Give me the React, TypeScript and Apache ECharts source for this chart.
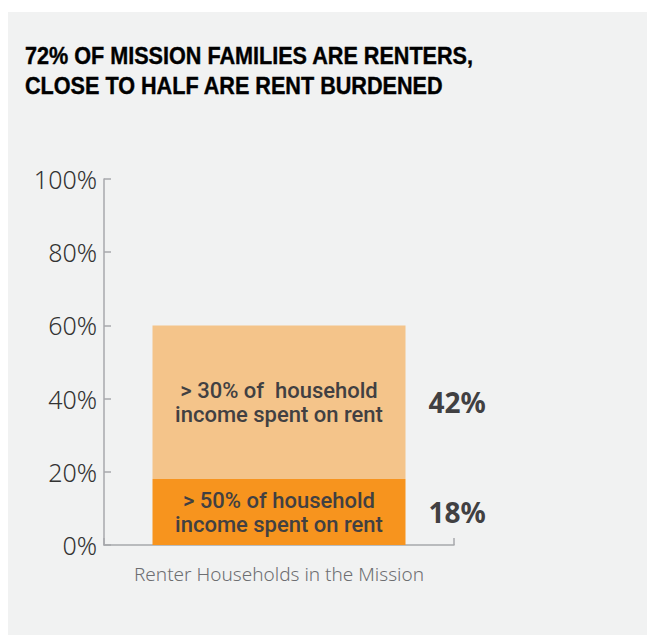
import React, { useEffect, useRef } from "react";
import * as echarts from "echarts";

const titleLines = ["72% OF MISSION FAMILIES ARE RENTERS,", "CLOSE TO HALF ARE RENT BURDENED"];
const categories = ["Renter Households in the Mission"];
const severeValues = [18];
const moderateValues = [42];
const severeLabel = "> 50% of household\nincome spent on rent";
const moderateLabel = "> 30% of  household\nincome spent on rent";
const yTicks = [0, 20, 40, 60, 80, 100];

export default function App() {
  const ref = useRef<HTMLDivElement>(null);
  useEffect(() => {
    if (!ref.current) return;
    const chart = echarts.init(ref.current, null, { renderer: "svg" });
    const axisColor = "#a7a9ac";
    const insideLabelFont = {
      fontFamily: "Roboto, sans-serif",
      fontWeight: 500,
      fontSize: 22,
      lineHeight: 24,
      color: "#414042",
    };
    const valueLabel = {
      show: true,
      position: "right",
      distance: 23,
      formatter: (p: any) => p.value + "%",
      fontFamily: "'Noto Sans', sans-serif",
      fontWeight: 700,
      fontSize: 28,
      color: "#414042",
    };
    chart.setOption({
      animation: false,
      backgroundColor: "#ffffff",
      graphic: [
        {
          type: "rect",
          z: -10,
          silent: true,
          shape: { x: 8, y: 12, width: 639, height: 623 },
          style: { fill: "#f1f2f2" },
        },
        {
          type: "text",
          x: 25,
          y: 41,
          scaleX: 0.9,
          style: {
            text: titleLines.join("\n"),
            fontFamily: "'Liberation Sans', Arial, sans-serif",
            fontWeight: "bold",
            fontSize: 24,
            lineHeight: 30,
            fill: "#000000",
            stroke: "#000000",
            lineWidth: 0.4,
          },
        },
      ],
      grid: { left: 104, right: 193, top: 179, bottom: 90 },
      xAxis: {
        type: "category",
        data: categories,
        boundaryGap: true,
        axisLine: { show: true, lineStyle: { color: axisColor, width: 1.5 } },
        axisTick: { show: true, inside: true, length: 7, lineStyle: { color: axisColor, width: 1.5 } },
        axisLabel: {
          margin: 19,
          fontFamily: "'Noto Sans', sans-serif",
          fontWeight: 300,
          fontSize: 19,
          color: "#6d6e71",
        },
      },
      yAxis: {
        type: "value",
        min: 0,
        max: 100,
        interval: 20,
        splitLine: { show: false },
        axisLine: { show: true, lineStyle: { color: axisColor, width: 1.5 } },
        axisTick: { show: true, inside: true, length: 7, lineStyle: { color: axisColor, width: 1.5 } },
        axisLabel: {
          margin: 7,
          formatter: (v: number) => (yTicks.includes(v) ? v + "%" : ""),
          fontFamily: "'Noto Sans', sans-serif",
          fontWeight: 300,
          fontSize: 25,
          color: "#333333",
        },
      },
      series: [
        {
          type: "bar",
          stack: "rent",
          data: severeValues,
          barWidth: 253,
          itemStyle: { color: "#f7941e" },
          label: valueLabel,
          markPoint: {
            symbol: "circle",
            symbolSize: 0,
            data: severeValues.map((v, i) => ({
              coord: [i, v / 2],
              label: { show: true, position: "inside", formatter: severeLabel, ...insideLabelFont },
            })),
          },
        },
        {
          type: "bar",
          stack: "rent",
          data: moderateValues,
          barWidth: 253,
          itemStyle: { color: "#f4c48a" },
          label: valueLabel,
          markPoint: {
            symbol: "circle",
            symbolSize: 0,
            data: moderateValues.map((v, i) => ({
              coord: [i, severeValues[i] + v / 2],
              label: { show: true, position: "inside", formatter: moderateLabel, ...insideLabelFont },
            })),
          },
        },
      ],
    });
    return () => chart.dispose();
  }, []);
  return (
    <div
      ref={ref}
      style={{ position: "fixed", left: 0, top: 0, width: 647, height: 635 }}
    />
  );
}
